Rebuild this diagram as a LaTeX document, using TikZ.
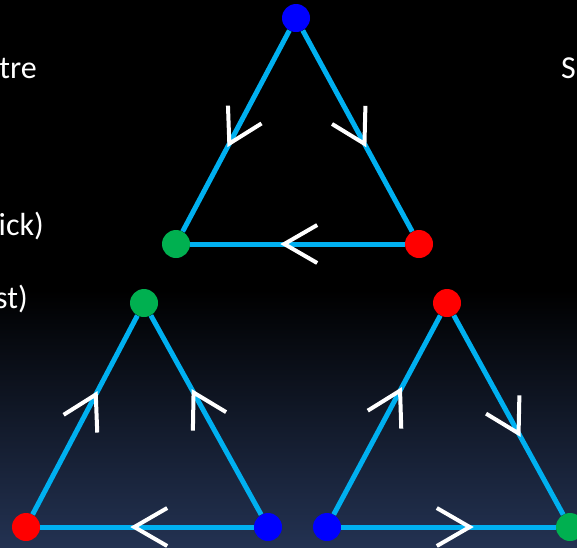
\documentclass[tikz,border=0pt]{standalone}
\usepackage{fontspec}
\setmainfont{Carlito}
\usetikzlibrary{decorations.markings}
\definecolor{edgeblue}{RGB}{0,176,240}
\definecolor{dotblue}{RGB}{0,0,255}
\definecolor{dotred}{RGB}{255,0,0}
\definecolor{dotgreen}{RGB}{0,176,80}
\definecolor{navybg}{RGB}{35,50,82}
\tikzset{
  edge/.style={draw=edgeblue, line width=5pt},
  dot/.style={circle, inner sep=0pt, minimum size=28pt, fill=#1},
  chev/.style={postaction={decorate, decoration={markings,
     mark=at position #1 with {\draw[white, line width=4pt] (-32.9pt,19pt) -- (0pt,0pt) -- (-32.9pt,-19pt);}}}},
  lbl/.style={text=white, font=\fontsize{32}{38}\selectfont, inner sep=0pt},
}
\begin{document}
\begin{tikzpicture}[x=1pt,y=-1pt]
\useasboundingbox (0,0) rectangle (577,547);
\fill[black] (0,0) rectangle (577,547);
\shade[top color=black, bottom color=navybg] (0,290) rectangle (577,547.5);

% text fragments
\node[lbl, anchor=base east] (t1) at (37,78) {tre};
\node[lbl, anchor=base east] (t2) at (44,235) {ick)};
\node[lbl, anchor=base east] (t3) at (28,308) {st)};
\node[lbl, anchor=base west] (t4) at (561,78) {S};

% top triangle
\node[dot=dotblue] (B1) at (296,18) {};
\node[dot=dotgreen] (G1) at (176,244) {};
\node[dot=dotred] (R1) at (419,244) {};
% bottom-left triangle
\node[dot=dotgreen] (G2) at (144,303) {};
\node[dot=dotred] (R2) at (26,527) {};
\node[dot=dotblue] (B2) at (268,527) {};
% bottom-right triangle
\node[dot=dotred] (R3) at (447,303) {};
\node[dot=dotblue] (B3) at (327,527) {};
\node[dot=dotgreen] (G3) at (570,527) {};

\draw[edge, chev=128pt] (B1) -- (G1);
\draw[edge, chev=129pt] (B1) -- (R1);
\draw[edge, chev=120.5pt] (R1) -- (G1);

\draw[edge, chev=135.5pt] (R2) -- (G2);
\draw[edge, chev=139.5pt] (B2) -- (G2);
\draw[edge, chev=119.5pt] (B2) -- (R2);

\draw[edge, chev=140.5pt] (B3) -- (R3);
\draw[edge, chev=134.5pt] (R3) -- (G3);
\draw[edge, chev=128.5pt] (B3) -- (G3);
\end{tikzpicture}
\end{document}
